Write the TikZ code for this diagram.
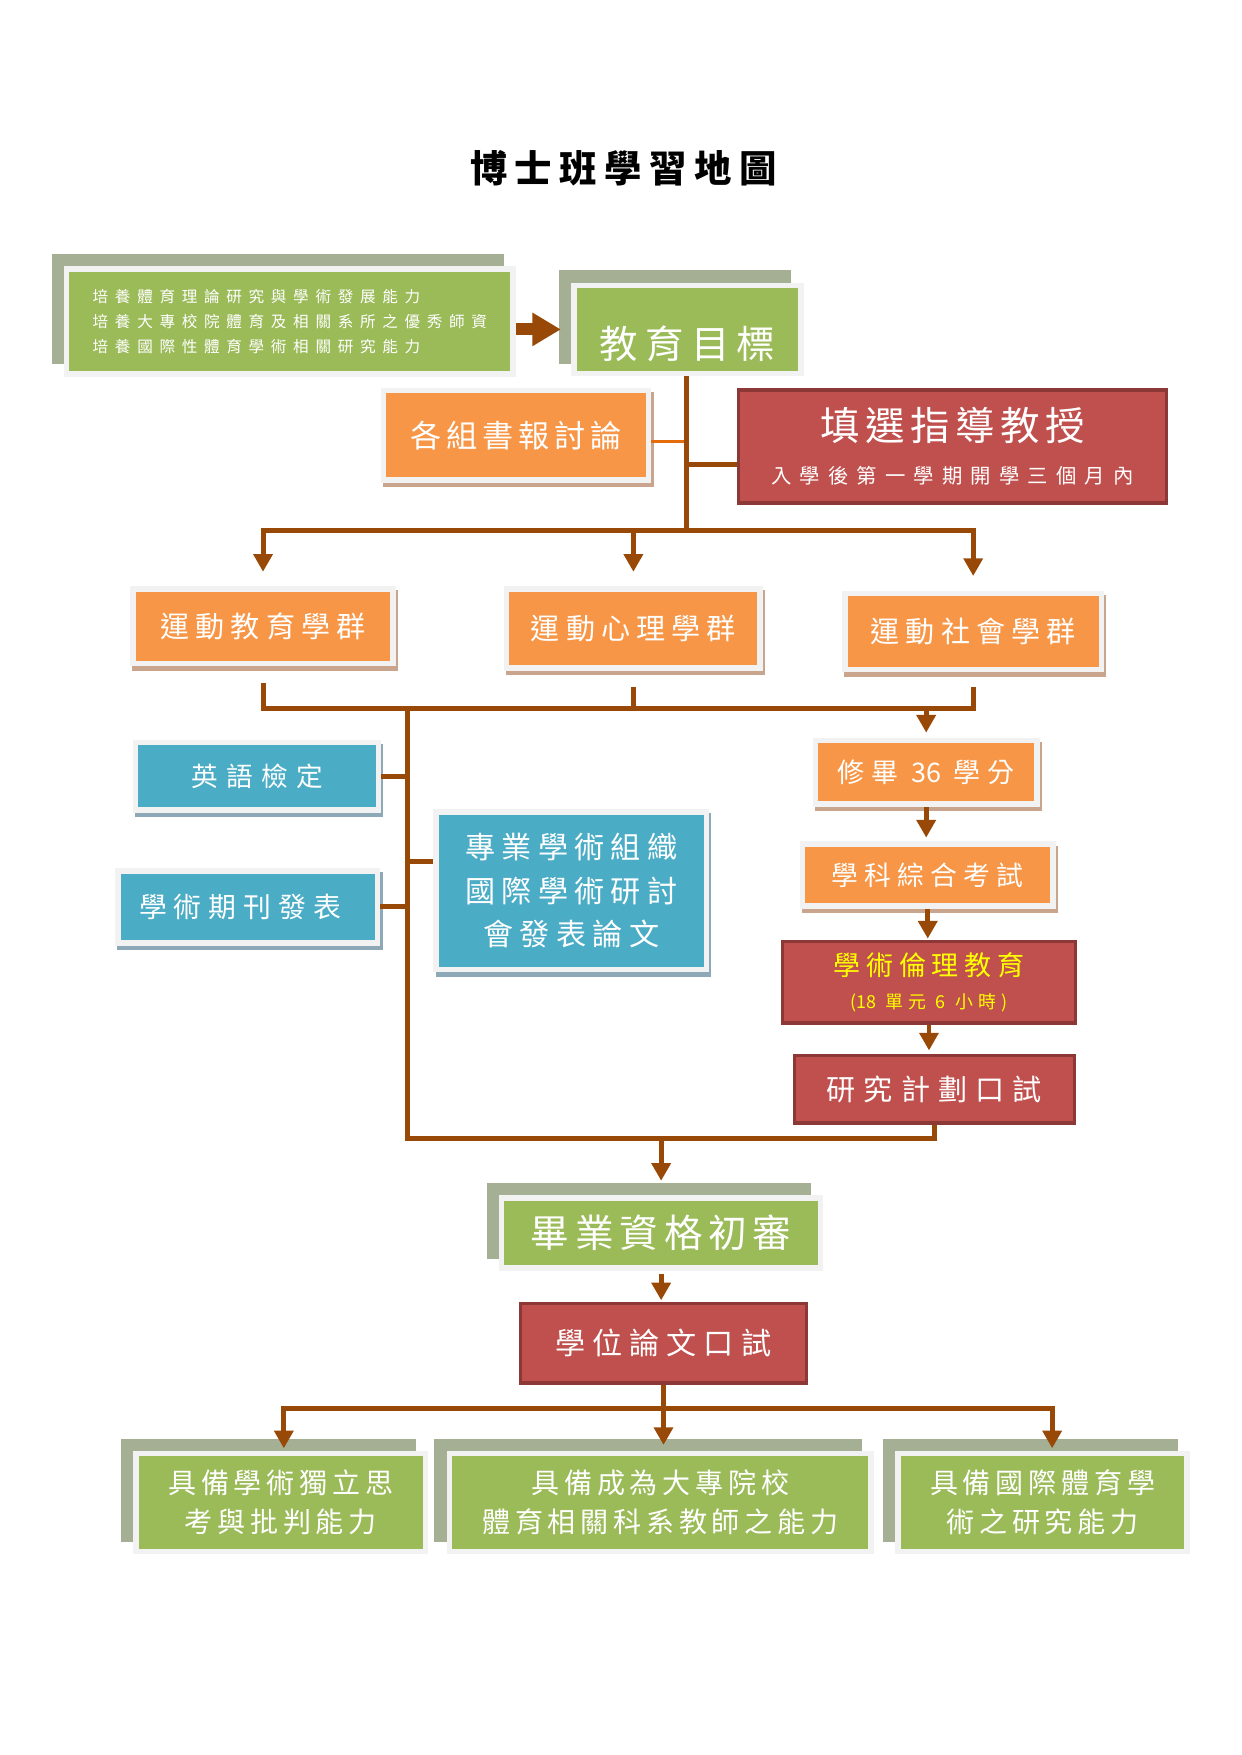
\documentclass[tikz,border=0pt]{standalone}
\usepackage{fontspec}
\usetikzlibrary{arrows.meta,shadows}
\newfontfamily\cjk{Noto Sans CJK TC}
\newcommand\cjkfs[3]{\cjk\fontsize{#1}{#2}\selectfont\addfontfeature{LetterSpace=#3}}
\newcommand\tight[1]{{\addfontfeature{LetterSpace=0}#1}}
\newlength\unitpx
\setlength\unitpx{0.18936mm}
\definecolor{boxgreen}{HTML}{9BBB59}
\definecolor{backgray}{HTML}{A5AF94}
\definecolor{framegray}{HTML}{F2F2F2}
\definecolor{boxorange}{HTML}{F79646}
\definecolor{orangeshade}{HTML}{C8A58C}
\definecolor{boxblue}{HTML}{4BACC6}
\definecolor{blueshade}{HTML}{8DA9B8}
\definecolor{boxred}{HTML}{C0504D}
\definecolor{reddark}{HTML}{8C3836}
\definecolor{linkbrown}{HTML}{984807}
\definecolor{linkorange}{HTML}{E46C0A}
\definecolor{ethicyellow}{HTML}{FFFF00}
\tikzset{
  sz/.style 2 args={minimum width=#1*\unitpx,minimum height=#2*\unitpx},
  greenbox/.style={draw=framegray,line width=2.7pt,fill=boxgreen,text=white,
    drop shadow={shadow xshift=-5.9pt,shadow yshift=5.9pt,fill=backgray,draw=backgray,opacity=1}},
  orangebox/.style={draw=framegray,line width=2.7pt,fill=boxorange,text=white,
    drop shadow={shadow xshift=1pt,shadow yshift=-2pt,fill=orangeshade,draw=orangeshade,opacity=1}},
  bluebox/.style={draw=framegray,line width=2.7pt,fill=boxblue,text=white,
    drop shadow={shadow xshift=1pt,shadow yshift=-2pt,fill=blueshade,draw=blueshade,opacity=1}},
  redbox/.style={draw=reddark,line width=1.6pt,fill=boxred,text=white},
  link/.style={draw=linkbrown,line width=2.4pt},
  thinlink/.style={draw=linkorange,line width=1.6pt},
  groupfont/.style={font=\cjkfs{14pt}{17pt}{21}},
  ablfont/.style={font=\cjkfs{13.5pt}{18.9pt}{17}}
}
\begin{document}
\begin{tikzpicture}[x=0.18936mm,y=-0.18936mm,>={Triangle[width=9pt,length=8.5pt]}]
\useasboundingbox (0,0) rectangle (1109,1568);
\node[font=\cjk\bfseries\fontsize{18pt}{22pt}\selectfont\addfontfeature{LetterSpace=20}] (title) at (557,150.4) {博士班學習地圖};

\node[greenbox,sz={399}{93.5},align=left,font=\cjkfs{7.5pt}{12.1pt}{43}] (goals) at (259,287.3)
  {培養體育理論研究與學術發展能力\\培養大專校院體育及相關系所之優秀師資\\培養國際性體育學術相關研究能力};
\node[greenbox,sz={202.5}{78.5},font=\cjkfs{18.5pt}{22pt}{19}] (aim) at (614.3,294.3)
  {\raisebox{-13\unitpx}[\height][\depth]{教育目標}};
\node[orangebox,sz={237}{80},font=\cjkfs{15pt}{18pt}{16}] (read) at (461,389) {各組書報討論};
\node[redbox,sz={382}{101},align=center,font=\cjkfs{9.8pt}{20.8pt}{40}] (advisor) at (851,398.8)
  {{\cjkfs{19pt}{20.8pt}{14}填選指導教授}\\入學後第一學期開學三個月內};

\node[orangebox,sz={232.4}{66.6},groupfont] (gedu) at (235,559.6) {運動教育學群};
\node[orangebox,sz={226.7}{70.5},groupfont] (gpsy) at (565.9,561.6) {運動心理學群};
\node[orangebox,sz={229.4}{68.2},groupfont] (gsoc) at (869.5,564.2) {運動社會學群};

\node[bluebox,sz={217}{60},font=\cjkfs{12.8pt}{15pt}{32}] (eng) at (229.6,693.5) {英語檢定};
\node[bluebox,sz={232}{64.5},font=\cjkfs{13.4pt}{16pt}{25}] (pub) at (221.4,810.3) {學術期刊發表\hspace*{14\unitpx}};
\node[bluebox,sz={241.4}{141},align=center,font=\cjkfs{14.5pt}{21pt}{21}] (conf) at (510.5,795.8)
  {專業學術組織\\國際學術研討\\會發表論文};

\node[orangebox,sz={198}{57},font=\cjkfs{13pt}{15pt}{25}] (credit) at (827.5,690) {修畢 \tight{36} 學分};
\node[orangebox,sz={224}{55},font=\cjkfs{12.9pt}{15pt}{23}] (exam) at (828.9,781.7) {學科綜合考試};
\node[redbox,sz={262}{73},text=ethicyellow,align=center,font=\cjkfs{8.6pt}{15.5pt}{30}] (ethic) at (830,877.5)
  {{\cjkfs{13pt}{15pt}{21}學術倫理教育}\\(\tight{18} 單元 6 小時)};
\node[redbox,sz={250.5}{60.5},font=\cjkfs{14pt}{16pt}{28}] (plan) at (834.8,973.2) {研究計劃口試};

\node[greenbox,sz={285}{62.5},font=\cjkfs{18.6pt}{22pt}{15}] (review) at (590.7,1101.7) {畢業資格初審};
\node[redbox,sz={255}{71},font=\cjkfs{14.5pt}{17pt}{23}] (defense) at (592.8,1200.2) {學位論文口試};

\node[greenbox,sz={258.8}{87.4},align=center,ablfont] (abl1) at (250.8,1342.4) {具備學術獨立思\\考與批判能力};
\node[greenbox,sz={376.7}{87.4},align=center,ablfont] (abl2) at (590,1342.4) {具備成為大專院校\\體育相關科系教師之能力};
\node[greenbox,sz={258}{87.4},align=center,ablfont] (abl3) at (931.5,1342.4) {具備國際體育學\\術之研究能力};

\coordinate (hub) at (613,474.3);
\coordinate (low) at (566,633);
\coordinate (lefttop) at (364,633);
\coordinate (leftbot) at (364,1017.5);
\coordinate (hub2) at (592.8,1258.5);
\coordinate (advin) at ([yshift=-8.6pt]advisor.west);
\coordinate (readout) at ([yshift=-3pt]read.east);
\coordinate (confin) at ([yshift=13.9pt]conf.west);
\coordinate (abl1in) at ([xshift=1.5pt]abl1.north);
\coordinate (abl3in) at ([xshift=4.6pt]abl3.north);

\draw[draw=linkbrown,line width=5.7pt,-{Triangle[width=15.2pt,length=13.7pt]},shorten >=5.1pt] (goals.east |- aim.west) -- (aim.west);
\draw[thinlink] (readout) -- (readout -| hub);
\draw[link] (aim.south -| hub) -- (hub);
\draw[link] (advin) -- (advin -| hub);
\draw[link,->,shorten >=7pt] (hub) -| (gedu.north);
\draw[link,->,shorten >=7pt] (hub) -| (gpsy.north);
\draw[link,->,shorten >=7pt] (hub) -| (gsoc.north);

\draw[link,shorten <=8pt,shorten >=7pt] (gedu.south) -- (gedu.south |- low) -- (gsoc.south |- low) -- (gsoc.south);
\draw[link,shorten <=8pt] (gpsy.south) -- (gpsy.south |- low);
\draw[link,->,shorten >=2.4pt] (credit.north |- low) -- (credit.north);
\draw[link] (lefttop) -- (leftbot) -- (plan.south |- leftbot) -- (plan.south);
\draw[link] (eng.east) -- (eng.east -| lefttop);
\draw[link] (pub.east) -- (pub.east -| lefttop);
\draw[link] (confin) -- (confin -| lefttop);
\draw[link,->,shorten >=1.8pt] (credit.south) -- (credit.south |- exam.north);
\draw[link,->,shorten >=0.5pt] (exam.south) -- (exam.south |- ethic.north);
\draw[link,->,shorten >=1.6pt] (ethic.south) -- (ethic.south |- plan.north);

\draw[link,->,shorten >=7pt] (review.north |- leftbot) -- (review.north);
\draw[link,->,shorten <=1.5pt,shorten >=0.8pt] (review.south) -- (review.south |- defense.north);
\draw[link] (defense.south) -- (hub2);
\draw[link,->,shorten >=1.2pt] (hub2) -| (abl1in);
\draw[link,->,shorten >=2.8pt] (hub2) -- (hub2 |- abl2.north);
\draw[link,->,shorten >=1.2pt] (hub2) -| (abl3in);
\end{tikzpicture}
\end{document}
